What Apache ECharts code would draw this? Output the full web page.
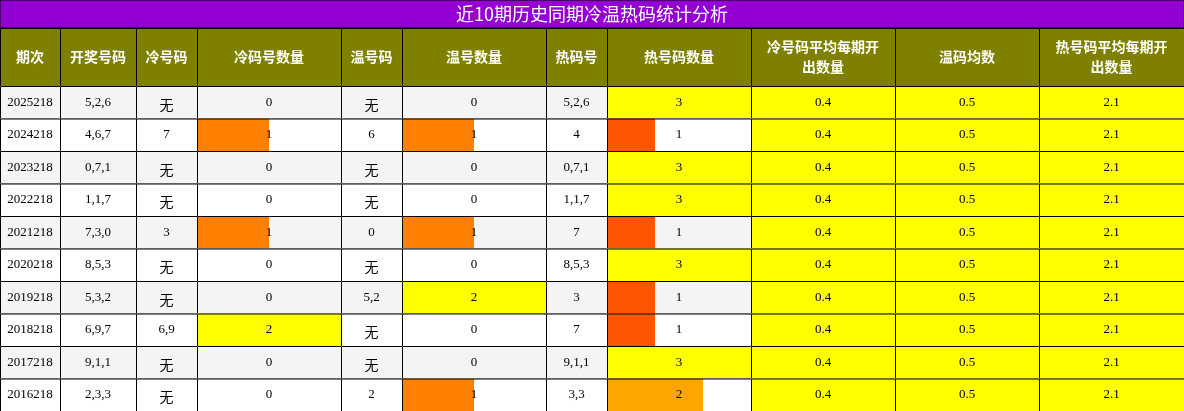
<!DOCTYPE html>
<html><head><meta charset="utf-8">
<script src="https://cdn.jsdelivr.net/npm/echarts@6/dist/echarts.min.js"></script>
<style>html,body{margin:0;padding:0;background:#fff}#c{width:1184px;height:411px}</style>
</head><body><div id="c"></div>
<script>
const title = '近10期历史同期冷温热码统计分析';
const headers = ['期次','开奖号码','冷号码','冷码号数量','温号码','温号数量','热码号','热号码数量','冷号码平均每期开\n出数量','温码均数','热号码平均每期开\n出数量'];
const periods = ['2025218','2024218','2023218','2022218','2021218','2020218','2019218','2018218','2017218','2016218'];
const draws = ['5,2,6','4,6,7','0,7,1','1,1,7','7,3,0','8,5,3','5,3,2','6,9,7','9,1,1','2,3,3'];
const coldNums = ['无','7','无','无','3','无','无','6,9','无','无'];
const coldCounts = [0,1,0,0,1,0,0,2,0,0];
const warmNums = ['无','6','无','无','0','无','5,2','无','无','2'];
const warmCounts = [0,1,0,0,1,0,2,0,0,1];
const hotNums = ['5,2,6','4','0,7,1','1,1,7','7','8,5,3','3','7','9,1,1','3,3'];
const hotCounts = [3,1,3,3,1,3,1,1,3,2];
const coldAvg = 0.4, warmAvg = 0.5, hotAvg = 2.1;

const colEdges = [0,60,136,197,341,402,546,607,751,895,1039,1184];
const W = 1184, H = 411, titleH = 28, headH = 58, rowH = 32.5;
const YELLOW = '#ffff00';
function countFill(v, max, kind){
  if (v === 0) return null;
  if (v >= max) return YELLOW;
  if (kind === 'hot') return v === 1 ? '#ff5500' : '#ffa500';
  return '#ff8000';
}
// cells: [col, row(-1 header), text, frac, color]
const cells = [];
headers.forEach((h,c)=>cells.push([c,-1,h,0,null]));
periods.forEach((p,r)=>{
  const vals = [p, draws[r], coldNums[r], coldCounts[r], warmNums[r], warmCounts[r], hotNums[r], hotCounts[r], coldAvg, warmAvg, hotAvg];
  vals.forEach((v,c)=>{
    let frac=0,color=null;
    if (c===3){frac=Math.min(v/2,1);color=countFill(v,2,'cold');}
    if (c===5){frac=Math.min(v/2,1);color=countFill(v,2,'warm');}
    if (c===7){frac=Math.min(v/3,1);color=countFill(v,3,'hot');}
    if (c>=8){frac=1;color=YELLOW;}
    cells.push([c,r,String(v),frac,color]);
  });
});
const chart = echarts.init(document.getElementById('c'));
chart.setOption({
  animation:false,
  grid:{left:0,right:0,top:0,bottom:0},
  xAxis:{type:'value',min:0,max:W,show:false},
  yAxis:{type:'value',min:0,max:H,inverse:true,show:false},
  series:[{
    type:'custom',
    data:cells.map((c,i)=>[i]),
    renderItem(params, api){
      const [c,r,text,frac,color] = cells[api.value(0)];
      const y0v = r<0 ? titleH : titleH+headH+r*rowH;
      const y1v = r<0 ? titleH+headH : y0v+rowH;
      const p0 = api.coord([colEdges[c], y0v]);
      const p1 = api.coord([colEdges[c+1], y1v]);
      const x=p0[0], y=p0[1], w=p1[0]-p0[0], h=p1[1]-p0[1];
      const children=[];
      const bg = r<0 ? '#808000' : (r%2===0 ? '#f4f4f4' : '#ffffff');
      children.push({type:'rect',shape:{x,y,width:w,height:h},style:{fill:bg}});
      if (color && frac>0) children.push({type:'rect',shape:{x,y,width:w*frac,height:h},style:{fill:color}});
      children.push({type:'rect',shape:{x:x+0.5,y:y+0.5,width:w,height:h},style:{fill:'none',stroke:'#000',lineWidth:1}});
      const isHead = r<0;
      const isCJK = /[\u4e00-\u9fff]/.test(text);
      children.push({type:'text',x:x+w/2,y:y+h/2+(isCJK&&!isHead?2:0),style:{
        text, align:'center', verticalAlign:'middle',
        fill:isHead?'#fff':'#000',
        font: isHead ? 'bold 14px "Noto Sans CJK SC", sans-serif' : (isCJK ? '14px "Noto Sans CJK SC", sans-serif' : '13px "Liberation Serif", serif'),
        lineHeight:isHead?20:16
      }});
      return {type:'group',children};
    }
  },{
    type:'custom',
    data:[[0]],
    renderItem(params, api){
      const p0 = api.coord([0,0]), p1 = api.coord([W,titleH]);
      return {type:'group',children:[
        {type:'rect',shape:{x:p0[0],y:p0[1],width:p1[0]-p0[0],height:p1[1]-p0[1]},style:{fill:'#9400d3',stroke:'#000',lineWidth:1}},
        {type:'text',x:(p0[0]+p1[0])/2,y:(p0[1]+p1[1])/2,style:{text:title,align:'center',verticalAlign:'middle',fill:'#fff',font:'18px "Noto Sans CJK SC", sans-serif'}}
      ]};
    }
  }]
});
</script></body></html>
